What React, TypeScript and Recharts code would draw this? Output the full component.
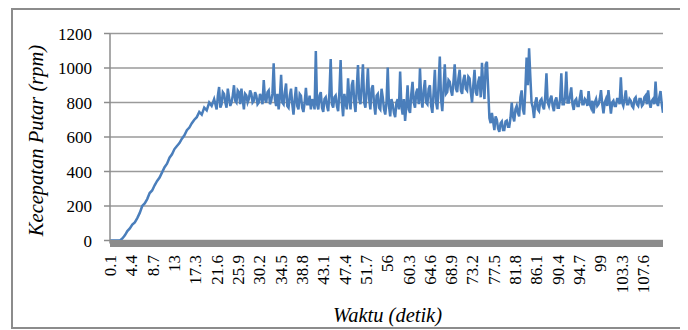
import React from 'react';
import { LineChart, Line, XAxis, YAxis, CartesianGrid, Label } from 'recharts';

// Kecepatan putar (rpm) during run-up, sampled every 0.5 s from 0.1 s to 20.6 s
const rampRpm: number[] = [
  0, 0, 0, 0, 0,
  12, 30, 55, 70, 92, 105, 130, 160, 200, 215,
  240, 275, 290, 320, 345, 365, 395, 425, 445, 480,
  500, 530, 548, 565, 590, 610, 640, 655, 680, 700,
  715, 745, 730, 770, 755, 800, 780,
];
const rampStart = 0.1;
const rampStep = 0.5;

// Kecepatan putar (rpm) afterwards, sampled every 0.25 s from 21.1 s to 111.6 s
const plateauRpm: number[] = [
  // 21.1
  820, 790, 760, 840, 890, 770, 790, 860, 850, 800, 770, 880, 830, 780, 800, 840,
  // 25.1
  900, 810, 800, 870, 860, 790, 880, 820, 760, 850, 840, 800, 820, 870, 850, 800,
  // 29.1
  810, 860, 840, 790, 800, 850, 830, 790, 930, 820, 800, 860, 870, 790, 810, 850,
  // 33.1
  1027, 820, 780, 850, 760, 830, 960, 800, 790, 860, 910, 780, 770, 840, 880, 790,
  // 37.1
  730, 820, 890, 780, 760, 850, 840, 770, 745, 800, 885, 790, 790, 840, 760, 820,
  // 41.1
  800, 760, 1098, 790, 760, 840, 860, 770, 745, 820, 830, 780, 750, 860, 1052, 790,
  // 45.1
  770, 830, 840, 780, 750, 860, 1046, 800, 720, 850, 800, 760, 940, 820, 760, 900,
  // 49.1
  930, 800, 745, 880, 1017, 820, 790, 900, 1021, 800, 770, 870, 998, 820, 760, 880,
  // 53.1
  900, 790, 730, 840, 850, 770, 760, 880, 830, 760, 730, 800, 1002, 780, 720, 820,
  // 57.1
  790, 740, 715, 800, 820, 760, 979, 780, 730, 820, 693, 780, 900, 760, 740, 850,
  // 61.1
  920, 800, 770, 860, 880, 790, 998, 820, 770, 870, 930, 800, 790, 880, 900, 780,
  // 65.1
  740, 860, 990, 800, 760, 900, 1066, 820, 750, 880, 1021, 850, 860, 930, 920, 870,
  // 69.1
  840, 920, 1021, 880, 860, 940, 990, 870, 850, 930, 960, 880, 870, 950, 940, 860,
  // 73.1
  800, 900, 990, 860, 840, 920, 950, 830, 1030, 900, 820, 1020, 1036, 880, 710, 680,
  // 77.1
  740, 690, 640, 720, 700, 650, 630, 680, 690, 640, 640, 690, 695, 660, 660, 710,
  // 81.1
  800, 720, 690, 760, 780, 740, 720, 830, 870, 760, 730, 880, 1060, 900, 1114, 950,
  // 85.1
  800, 770, 710, 800, 830, 760, 750, 810, 820, 780, 760, 830, 969, 800, 780, 820,
  // 89.1
  840, 780, 750, 810, 830, 770, 770, 820, 969, 790, 790, 830, 979, 800, 800, 840,
  // 93.1
  888, 790, 757, 810, 820, 780, 780, 830, 872, 790, 790, 820, 810, 780, 866, 790,
  // 97.1
  770, 810, 737, 800, 820, 780, 790, 820, 872, 790, 737, 800, 820, 780, 872, 800,
  // 101.1
  735, 800, 810, 780, 780, 820, 820, 790, 946, 800, 780, 820, 870, 790, 790, 820,
  // 105.1
  810, 780, 770, 820, 830, 790, 780, 820, 820, 780, 790, 830, 840, 790, 870, 800,
  // 109.1
  770, 810, 820, 790, 921, 800, 780, 830, 866, 790, 740,
];
const plateauStart = 21.1;
const plateauStep = 0.25;

const xTickValues: number[] = [
  0.1, 4.4, 8.7, 13, 17.3, 21.6, 25.9, 30.2, 34.5, 38.8, 43.1, 47.4, 51.7,
  56, 60.3, 64.6, 68.9, 73.2, 77.5, 81.8, 86.1, 90.4, 94.7, 99, 103.3, 107.6,
];
const yTickValues: number[] = [0, 200, 400, 600, 800, 1000, 1200];

const xTitle = 'Waktu (detik)';
const yTitle = 'Kecepatan Putar (rpm)';

const round2 = (n: number) => Math.round(n * 100) / 100;
const data = [
  ...rampRpm.map((v, i) => ({ t: round2(rampStart + i * rampStep), v })),
  ...plateauRpm.map((v, i) => ({ t: round2(plateauStart + i * plateauStep), v })),
];

const FONT = '"Liberation Serif", "Times New Roman", serif';

const XTick = (props: any) => {
  const { x, payload } = props;
  const y = 245;
  return (
    <text
      x={x}
      y={y}
      dy="0.35em"
      transform={`rotate(-90 ${x} ${y})`}
      textAnchor="end"
      fontFamily={FONT}
      fontSize={17}
      fill="#000"
    >
      {String(payload.value)}
    </text>
  );
};

export default function App() {
  return (
    <div
      style={{
        width: 668,
        height: 317,
        border: '2px solid #8c8c8c',
        marginLeft: 3,
        background: '#fff',
      }}
    >
      <LineChart
        width={668}
        height={317}
        data={data}
        margin={{ top: 23.5, right: 18, left: 0, bottom: 0 }}
      >
        <CartesianGrid
          horizontal={true}
          vertical={false}
          stroke="#9a9a9a"
          strokeWidth={1.5}
        />
        <XAxis
          type="number"
          dataKey="t"
          domain={[0.1, 111.6]}
          ticks={xTickValues}
          interval={0}
          tick={<XTick />}
          tickLine={false}
          axisLine={{ stroke: '#8c8c8c', strokeWidth: 7 }}
          height={83.5}
          allowDataOverflow
        >
          <Label
            content={() => (
              <text
                x={374.5}
                y={311.5}
                textAnchor="middle"
                fontFamily={FONT}
                fontStyle="italic"
                fontSize={20.5}
                fill="#000"
              >
                {xTitle}
              </text>
            )}
          />
        </XAxis>
        <YAxis
          type="number"
          domain={[-17.4, 1200]}
          ticks={yTickValues}
          interval={0}
          width={97}
          tickSize={6}
          tickMargin={12}
          tick={{ fill: '#000', fontSize: 17, fontFamily: FONT }}
          tickLine={{ stroke: '#8c8c8c', strokeWidth: 1.5 }}
          axisLine={{ stroke: '#8c8c8c', strokeWidth: 1.5 }}
          allowDataOverflow
        >
          <Label
            content={() => (
              <text
                x={30}
                y={130.5}
                transform="rotate(-90 30 130.5)"
                textAnchor="middle"
                fontFamily={FONT}
                fontStyle="italic"
                fontSize={20.5}
                fill="#000"
              >
                {yTitle}
              </text>
            )}
          />
        </YAxis>
        <Line
          type="linear"
          dataKey="v"
          stroke="#4a7ebb"
          strokeWidth={2.5}
          dot={false}
          isAnimationActive={false}
        />
      </LineChart>
    </div>
  );
}
